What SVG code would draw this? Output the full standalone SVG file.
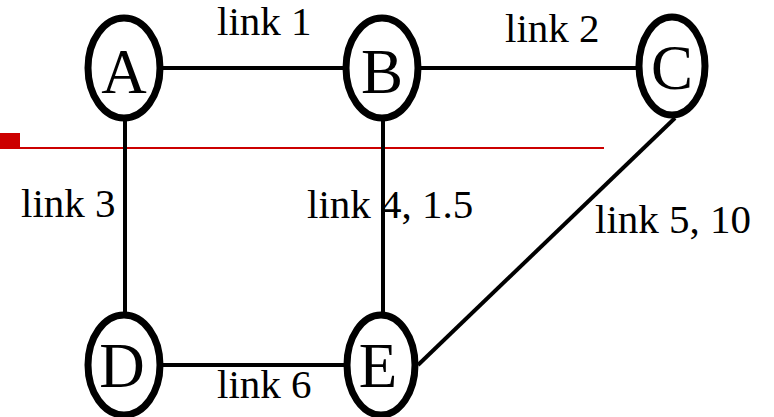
<svg xmlns="http://www.w3.org/2000/svg" width="774" height="417" viewBox="0 0 774 417">
<style>
.node ellipse{fill:#fff;stroke:#000;stroke-width:7}
.node text{font-family:"Liberation Serif","Times New Roman",serif;font-size:63px;text-anchor:middle;fill:#000}
.edge{stroke:#000;stroke-width:4;fill:none}
.lbl{font-family:"Liberation Serif","Times New Roman",serif;font-size:41px;fill:#000}
</style>
<rect x="0" y="133" width="20" height="15" fill="#cc0000"/>
<line x1="0" y1="148" x2="604" y2="148" stroke="#cc0000" stroke-width="2"/>
<g id="connectors">
<line class="edge" x1="124" y1="68" x2="382" y2="68"/>
<line class="edge" x1="382" y1="68" x2="672" y2="68"/>
<line class="edge" x1="125" y1="68" x2="125" y2="365"/>
<line class="edge" x1="383" y1="68" x2="383" y2="365"/>
<line class="edge" x1="124" y1="365" x2="381" y2="365"/>
<line class="edge" x1="675" y1="118" x2="418" y2="365"/>
<text class="lbl" x="217" y="35">link 1</text>
<text class="lbl" x="505" y="42">link 2</text>
<text class="lbl" x="21" y="217">link 3</text>
<text class="lbl" x="307" y="218">link 4, 1.5</text>
<text class="lbl" x="595" y="233">link 5, 10</text>
<text class="lbl" x="217" y="398">link 6</text>
</g>
<g id="A" class="node"><ellipse cx="124" cy="68" rx="36" ry="50"/><text x="124" y="93">A</text></g>
<g id="B" class="node"><ellipse cx="382" cy="68" rx="36" ry="50"/><text x="382" y="93">B</text></g>
<g id="C" class="node"><ellipse cx="672" cy="66" rx="33" ry="49"/><text x="672" y="89">C</text></g>
<g id="D" class="node"><ellipse cx="124" cy="365" rx="36" ry="50"/><text x="122" y="387">D</text></g>
<g id="E" class="node"><ellipse cx="381" cy="365" rx="34" ry="50"/><text x="378" y="387">E</text></g>
</svg>
